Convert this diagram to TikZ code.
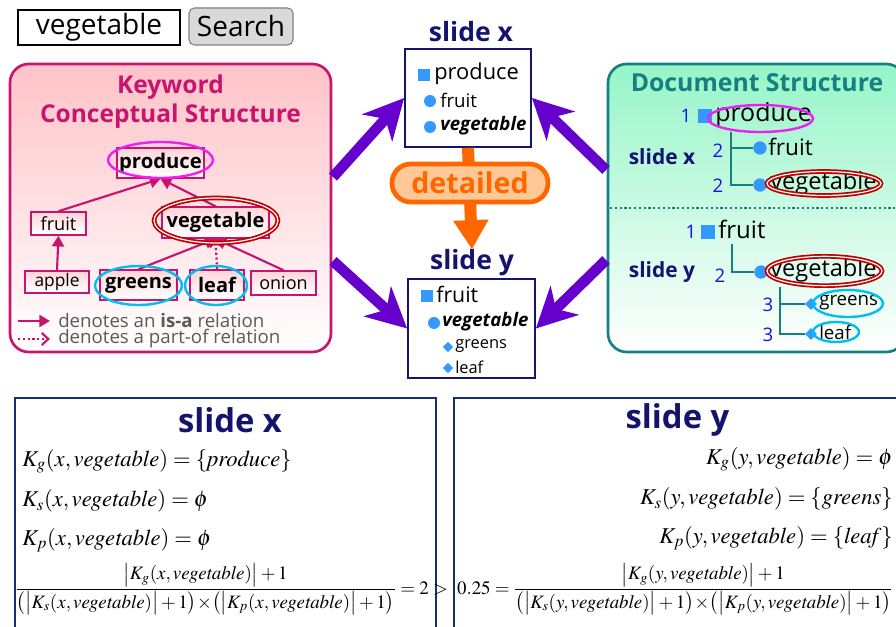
\documentclass[tikz,border=0pt]{standalone}
\usepackage{amsmath}
\usepackage{mathptmx}
\usepackage[no-math]{fontspec}
\setmainfont{Open Sans}
\usetikzlibrary{arrows.meta,shapes.geometric}
\definecolor{pinkc}{RGB}{200,20,110}
\definecolor{pinkbg}{RGB}{255,195,200}
\definecolor{tealc}{RGB}{20,128,128}
\definecolor{mintbg}{RGB}{150,245,200}
\definecolor{navy}{RGB}{20,20,110}
\definecolor{bulletb}{RGB}{51,153,255}
\definecolor{numb}{RGB}{20,20,230}
\definecolor{purp}{RGB}{102,0,204}
\definecolor{orng}{RGB}{255,102,0}
\definecolor{orngbg}{RGB}{255,200,150}
\definecolor{magc}{RGB}{240,30,240}
\definecolor{dred}{RGB}{192,0,0}
\definecolor{cyanc}{RGB}{0,190,240}
\definecolor{boxblue}{RGB}{20,50,110}
\definecolor{legendgray}{RGB}{90,90,90}
\newcommand\fsz[1]{\fontsize{#1}{#1}\selectfont}
\newcommand\vgt{\mathit{vegetable}}
\newcommand\kabs[2]{\bigl|K_{#1}(#2,\vgt)\bigr|}
\tikzset{
  txt/.style={inner sep=0pt, anchor=west},
  kwnode/.style={draw=pinkc, line width=1.2pt, top color=pinkbg!70, bottom color=white, inner sep=0pt},
  isa/.style={pinkc, line width=1.6pt, -{Triangle[width=9pt,length=8pt]}},
  partof/.style={pinkc, line width=1.6pt, dotted, -{Straight Barb[width=9pt,length=5pt]}},
  magell/.style={ellipse, draw=magc, line width=1.8pt, inner sep=0pt},
  redell/.style={ellipse, draw=dred, double=white, double distance=0.9pt, line width=1.3pt, inner sep=0pt},
  cyell/.style={ellipse, draw=cyanc, line width=1.8pt, inner sep=0pt},
  bsq/.style={fill=bulletb, minimum size=#1, inner sep=0pt},
  bcirc/.style={circle, fill=bulletb, minimum size=#1, inner sep=0pt},
  bdia/.style={diamond, fill=bulletb, minimum size=#1, inner sep=0pt},
  num/.style={inner sep=0pt, text=numb, font=\fsz{14}},
  tree/.style={tealc, line width=1pt},
  slidebox/.style={draw=navy, line width=1.3pt, fill=white, inner sep=0pt},
  slidelab/.style={inner sep=0pt, text=navy, font=\bfseries\fsz{#1}},
  parr/.style={purp, line width=8pt, -{Stealth[length=30pt,width=30pt,inset=9pt]}},
  oarr/.style={orng, line width=9pt, -{Triangle[length=22pt,width=25pt]}},
  fbox/.style={draw=boxblue, line width=1.3pt, inner sep=0pt},
  fml/.style={inner sep=0pt, font=\fsz{17}},
  frc/.style={inner sep=0pt, font=\fsz{14.2}},
}
\begin{document}
\begin{tikzpicture}[x=0.75pt,y=-0.75pt]
\useasboundingbox (0,0) rectangle (896,627);
% search bar
\node[draw=black, line width=0.9pt, minimum width=121.5pt, minimum height=26.25pt, inner sep=0pt, font=\fsz{21}] (search) at (99,27.5) {vegetable};
\node[draw=gray, fill=black!15, rounded corners=4pt, line width=0.8pt, minimum width=78pt, minimum height=27.75pt, inner sep=0pt, font=\fsz{21}] (btn) at (241,26.5) {Search};

% left box
\node[draw=pinkc, line width=2pt, rounded corners=14pt, top color=pinkbg, bottom color=white, minimum width=240.75pt, minimum height=216pt, inner sep=0pt] (kcs) at (170.5,208) {};
\node[inner sep=0pt, align=center, text=pinkc, font=\bfseries\fontsize{18.4}{21.75}\selectfont] (kcstitle) at (170.5,102) {Keyword\\Conceptual Structure};
\node[kwnode, minimum width=65.25pt, minimum height=22.5pt, font=\bfseries\fsz{15.2}] (produce) at (160.5,163) {produce};
\node[kwnode, minimum width=41.25pt, minimum height=17.25pt, font=\fsz{13.6}] (fruit) at (58.5,223.5) {fruit};
\node[kwnode, minimum width=80.25pt, minimum height=23.25pt, font=\bfseries\fsz{15}] (veg) at (215.5,222.5) {vegetable};
\node[kwnode, minimum width=48pt, minimum height=16.5pt, font=\fsz{13}] (apple) at (57,282) {apple};
\node[kwnode, minimum width=57.75pt, minimum height=22.5pt, font=\bfseries\fsz{15}] (greens) at (138.5,285) {greens};
\node[kwnode, minimum width=40.5pt, minimum height=22.5pt, font=\bfseries\fsz{15}] (leaf) at (217,285) {leaf};
\node[kwnode, minimum width=48.75pt, minimum height=18pt, font=\fsz{13.5}] (onion) at (283.5,283) {onion};
\draw[isa] (fruit.north) -- (produce.south);
\draw[isa] (veg.north) -- (produce.south);
\draw[isa] (apple.north) -- (fruit.south);
\draw[isa] (greens.north) -- (veg.south);
\draw[isa] (onion.north) -- (veg.south);
\draw[partof] (leaf.north) -- (veg.south);
\node[magell, minimum width=78.75pt, minimum height=27pt] (eprod) at (160.5,160) {};
\node[redell, minimum width=93pt, minimum height=33.75pt] (eveg) at (216,220.5) {};
\node[cyell, minimum width=65.25pt, minimum height=29.25pt] (egreens) at (138.5,285.5) {};
\node[cyell, minimum width=46.5pt, minimum height=29.25pt] (eleaf) at (216,285.5) {};
% legend
\coordinate (la1) at (18,321);
\coordinate (la2) at (18,339);
\node[txt, text=legendgray, font=\fsz{14}] (leg1) at (58,321) {denotes an \textbf{is-a} relation};
\node[txt, text=legendgray, font=\fsz{14}] (leg2) at (58,339) {denotes a part-of relation};
\draw[isa, shorten >=6pt] (la1) -- (leg1.west);
\draw[partof, shorten >=6pt] (la2) -- (leg2.west);

% right box
\node[draw=tealc, line width=2pt, rounded corners=14pt, top color=mintbg, bottom color=white, minimum width=222.75pt, minimum height=216pt, inner sep=0pt] (ds) at (756.5,208) {};
\coordinate (dl) at (610,208);
\coordinate (dr) at (896,208);
\draw[tealc, line width=1.6pt, dotted] (dl) -- (dr);
\node[inner sep=0pt, text=tealc, font=\bfseries\fsz{18.6}] (dstitle) at (757,83) {Document Structure};
% slide x part
\node[slidelab=15.7] (dsx) at (662,157) {slide x};
\node[num] (n1) at (686,116) {1};
\node[bsq=10.5pt] (sq1) at (705,116) {};
\node[txt, font=\fsz{18.7}] (dprod) at (715,115) {produce};
\coordinate (t1) at (731,132);
\node[bcirc=10pt] (c1) at (760,148) {};
\node[bcirc=10pt] (c2) at (760,185) {};
\draw[tree] (t1) |- (c1);
\draw[tree] (t1) |- (c2);
\node[num] (n2) at (718,151) {2};
\node[num] (n3) at (718,186) {2};
\node[txt, font=\fsz{17}] (dfruit) at (768,147) {fruit};
\node[txt, font=\fsz{17.7}] (dveg) at (770,183) {vegetable};
\node[magell, minimum width=78.75pt, minimum height=20.25pt] (edprod) at (760.5,118.5) {};
\node[redell, minimum width=85.5pt, minimum height=18pt] (edveg) at (824,183.5) {};
% slide y part
\node[slidelab=15.7] (dsy) at (662,272) {slide y};
\node[num] (n4) at (691,232) {1};
\node[bsq=11pt] (sq2) at (708,232) {};
\node[txt, font=\fsz{18}] (dfruit2) at (718,229) {fruit};
\coordinate (t2) at (732,244);
\node[bcirc=10pt] (c3) at (761,272) {};
\draw[tree] (t2) |- (c3);
\node[num] (n5) at (720,276) {2};
\node[txt, font=\fsz{17.7}] (dveg2) at (770,270) {vegetable};
\coordinate (t3) at (780,287);
\node[bdia=9pt] (d1) at (811,304) {};
\node[bdia=9pt] (d2) at (811,334) {};
\draw[tree] (t3) |- (d1);
\draw[tree] (t3) |- (d2);
\node[num] (n6) at (768,305) {3};
\node[num] (n7) at (768,335) {3};
\node[txt, font=\fsz{14}] (dgreens) at (819,303) {greens};
\node[txt, font=\fsz{14}] (dleaf) at (819,332) {leaf};
\node[redell, minimum width=86.25pt, minimum height=22pt] (edveg2) at (824.5,271) {};
\node[cyell, minimum width=52.5pt, minimum height=20.25pt] (edgreens) at (848,303.5) {};
\node[cyell, minimum width=34.5pt, minimum height=15pt] (edleaf) at (836,332) {};

% middle slides
\node[slidelab=19.9] (sxlab) at (471,32) {slide x};
\node[slidebox, minimum width=94.5pt, minimum height=73.5pt] (sx) at (468,98) {};
\node[bsq=9pt] (sxsq) at (424,75.5) {};
\node[txt, font=\fsz{16.4}] (sxprod) at (434,74) {produce};
\node[bcirc=9pt] (sxc1) at (430,101) {};
\node[txt, font=\fsz{14}] (sxfruit) at (440,100) {fruit};
\node[bcirc=9pt] (sxc2) at (430,127) {};
\node[txt, font=\bfseries\itshape\fsz{14}] (sxveg) at (440,126) {vegetable};

\node[slidelab=19.9] (sylab) at (472,263) {slide y};
\node[slidebox, minimum width=95.25pt, minimum height=74.25pt] (sy) at (471.5,328.5) {};
\node[bsq=9.5pt] (sysq) at (427,296) {};
\node[txt, font=\fsz{16}] (syfruit) at (436,294) {fruit};
\node[bcirc=9pt] (syc) at (434,323) {};
\node[txt, font=\bfseries\itshape\fsz{14}] (syveg) at (442,322) {vegetable};
\node[bdia=8pt] (syd1) at (448,347) {};
\node[txt, font=\fsz{12.3}] (sygreens) at (455,346) {greens};
\node[bdia=8pt] (syd2) at (448,368) {};
\node[txt, font=\fsz{12.3}] (syleaf) at (455,367) {leaf};

% orange detailed arrow
\draw[oarr] (sx.south) -- (sylab.north);
\node[draw=orng, line width=3.5pt, fill=orngbg, rounded corners=14pt, minimum width=117pt, minimum height=28.5pt, inner sep=0pt, text=orng, font=\bfseries\fsz{21.5}] (det) at (470,183) {detailed};

% purple arrows
\coordinate (pl1) at (333,177);
\coordinate (pl2) at (333,261);
\coordinate (pr1) at (606,170);
\coordinate (pr2) at (606,260);
\draw[parr] (pl1) -- (sx.west);
\draw[parr] (pl2) -- (sy.west);
\draw[parr] (pr1) -- (sx.east);
\draw[parr] (pr2) -- (sy.east);

% bottom formula boxes
\node[fbox, minimum width=315.75pt, minimum height=180pt, anchor=north west] (bx) at (14,397) {};
\node[fbox, minimum width=342pt, minimum height=180pt, anchor=north west] (by) at (453,397) {};
\node[slidelab=24.6] (bxlab) at (230,420) {slide x};
\node[slidelab=24.6] (bylab) at (677.5,420) {slide y};

\node[fml, anchor=west] (fx1) at (22,461) {$K_g(x,\vgt)=\{\mathit{produce}\}$};
\node[fml, anchor=west] (fx2) at (22,501) {$K_s(x,\vgt)=\phi$};
\node[fml, anchor=west] (fx3) at (22,540) {$K_p(x,\vgt)=\phi$};
\node[fml, anchor=east] (fy1) at (893,459) {$K_g(y,\vgt)=\phi$};
\node[fml, anchor=east] (fy2) at (893,499) {$K_s(y,\vgt)=\{\mathit{greens}\}$};
\node[fml, anchor=east] (fy3) at (893,538) {$K_p(y,\vgt)=\{\mathit{leaf}\}$};
\node[frc, anchor=base east] (fr1) at (448,594) {$\dfrac{\kabs{g}{x}+1}{\bigl(\kabs{s}{x}+1\bigr)\!\times\!\bigl(\kabs{p}{x}+1\bigr)}=2>$};
\node[frc, anchor=base east] (fr2) at (893,594) {$0.25=\dfrac{\kabs{g}{y}+1}{\bigl(\kabs{s}{y}+1\bigr)\!\times\!\bigl(\kabs{p}{y}+1\bigr)}$};
\end{tikzpicture}
\end{document}
